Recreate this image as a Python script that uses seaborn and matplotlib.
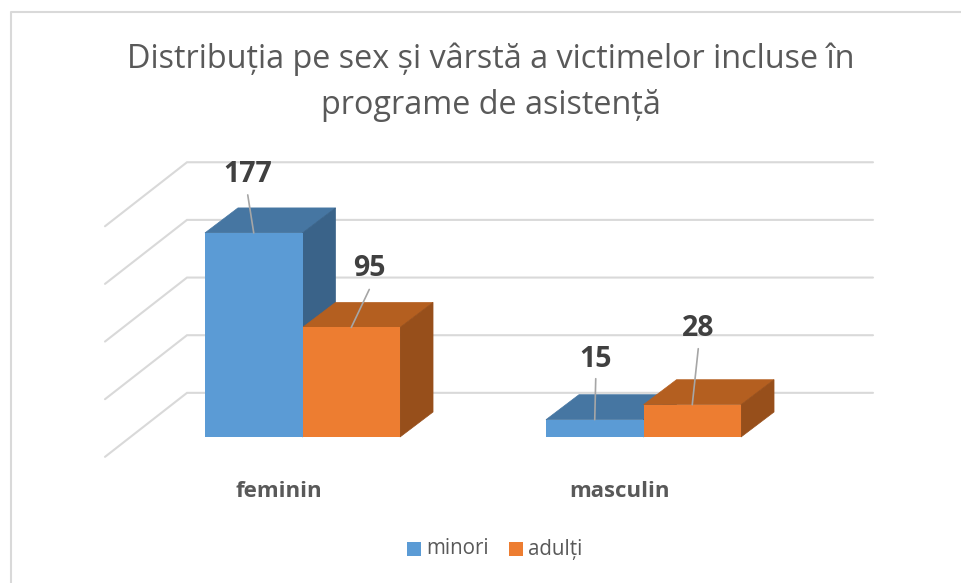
import matplotlib
matplotlib.use("Agg")
import matplotlib.pyplot as plt
from matplotlib.lines import Line2D
from matplotlib.patches import Polygon, Rectangle
import pandas as pd
import seaborn as sns

# ---------------- DATA ----------------
categories = ['feminin', 'masculin']
groups = ['minori', 'adulți']
minori = [177, 15]
adulti = [95, 28]
grid_levels = [50, 100, 150, 200, 250]
title = "Distribuția pe sex și vârstă a victimelor incluse în\nprograme de asistență"

colors = ['#5B9BD5', '#ED7D31']
top_colors = ['#4676A2', '#B45F20']
side_colors = ['#3A6389', '#974F1B']

df = pd.DataFrame({
    'sex': categories * 2,
    'grup': [groups[0]] * 2 + [groups[1]] * 2,
    'victime': minori + adulti,
})

# ---------------- FIGURE ----------------
W, H = 961, 583
sns.set_theme(style='white')
plt.rcParams['font.family'] = ['Open Sans', 'DejaVu Sans']

fig = plt.figure(figsize=(W / 100, H / 100), dpi=100)

# axes box in pixels of the picture
left, right, top, bottom = 105, 873, 150, 470
ax = fig.add_axes([left / W, 1 - bottom / H, (right - left) / W, (bottom - top) / H])

# pixel scale of the 3d look
px_per_x = 341.0
px_per_y = 1.153
base_px = 437

sns.barplot(data=df, x='sex', y='victime', hue='grup', palette=colors,
            width=0.572, gap=0, saturation=1, dodge=True, legend=False, ax=ax,
            zorder=3, edgecolor='none', linewidth=0)
ax.set_xlim((left - 302.5) / px_per_x, (right - 302.5) / px_per_x)
ax.set_ylim((base_px - bottom) / px_per_y, (base_px - top) / px_per_y)

depth_x = 33 / px_per_x
depth_y = 25 / px_per_y

# ---------------- WALL LINES ----------------
wall_x = (187 - 302.5) / px_per_x
side_dx = 82 / px_per_x
side_dy = 64 / px_per_y
for lvl in grid_levels:
    y = lvl + (base_px - 450.5) / px_per_y  # back wall zero sits below the bars' base
    ax.plot([wall_x - side_dx, wall_x, (right - 302.5) / px_per_x], [y - side_dy, y, y],
            color='#D9D9D9', lw=1.5, zorder=1, solid_joinstyle='miter', clip_on=False)

# ---------------- 3D FACES ----------------
for i, cont in enumerate(ax.containers):
    for b in cont:
        x0, x1 = b.get_x(), b.get_x() + b.get_width()
        h = b.get_height()
        ax.add_patch(Polygon([(x0, h), (x1, h), (x1 + depth_x, h + depth_y), (x0 + depth_x, h + depth_y)],
                             closed=True, fc=top_colors[i], ec=top_colors[i], lw=0.5, zorder=2.5))
        ax.add_patch(Polygon([(x1, 0), (x1, h), (x1 + depth_x, h + depth_y), (x1 + depth_x, depth_y)],
                             closed=True, fc=side_colors[i], ec=side_colors[i], lw=0.5, zorder=2.5))

# ---------------- LABELS + LEADERS ----------------
bar_list = list(ax.containers[0]) + list(ax.containers[1])
labels = minori + adulti
# pixel offsets from the bar's front-top middle: label x, label y, leader end x, leader end y
offsets = [(-6, 58, -6, 38), (1, 60, 1, 41), (18, 59, 18, 38), (6, 76, 6, 56)]
for b, val, (lx, ly, ex, ey) in zip(bar_list, labels, offsets):
    cx = b.get_x() + b.get_width() / 2
    h = b.get_height()
    ax.plot([cx, cx + ex / px_per_x], [h, h + ey / px_per_y],
            color='#A6A6A6', lw=1.2, zorder=4, clip_on=False)
    ax.text(cx + lx / px_per_x, h + ly / px_per_y, str(val), ha='center', va='center',
            fontsize=20.5, fontweight='bold', color='#404040', zorder=5, clip_on=False)

# ---------------- AXES ----------------
sns.despine(ax=ax, left=True, bottom=True, top=True, right=True)
ax.set_xlabel('')
ax.set_ylabel('')
ax.set_yticks([])
ax.set_xticks([])
ax.patch.set_alpha(0)
for i, cat in enumerate(categories):
    ax.text(i - 0.07, (base_px - 491.5) / px_per_y, cat, ha='center', va='center',
            fontsize=16, fontweight='bold', color='#595959', clip_on=False)

# ---------------- TITLE, BORDER, LEGEND ----------------
fig.text(491 / W, 1 - 82 / H, title, ha='center', va='center', fontsize=23.3,
         color='#595959', linespacing=1.5)

# only the top and left edges of the chart frame are inside the crop
fig.add_artist(Line2D([10.5 / W, 10.5 / W, 1], [0, 1 - 12 / H, 1 - 12 / H],
                      transform=fig.transFigure, color='#D9D9D9', lw=1.5))

legend_items = [(407, groups[0]), (509, groups[1])]
for (x, name), c in zip(legend_items, colors):
    fig.add_artist(Rectangle((x / W, 1 - 556 / H), 14 / W, 14 / H, transform=fig.transFigure,
                             fc=c, ec='none'))
    fig.text((x + 19) / W, 1 - 549 / H, name, ha='left', va='center', fontsize=14.8, color='#595959')

fig.savefig('out.png', dpi=100, facecolor='white')
